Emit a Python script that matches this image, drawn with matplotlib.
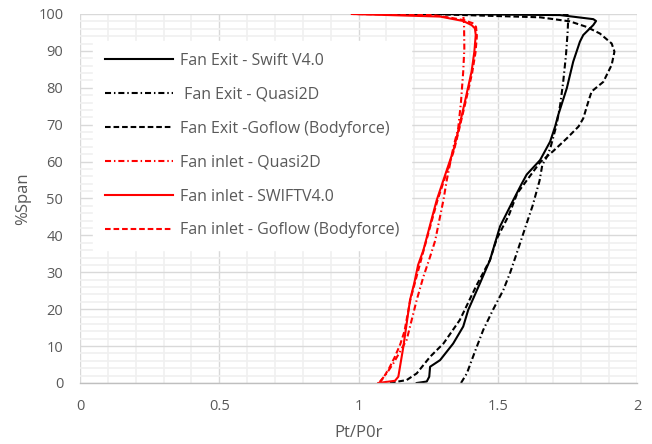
import matplotlib
matplotlib.use("Agg")
import matplotlib.pyplot as plt
from matplotlib.ticker import MultipleLocator

plt.rcParams['font.family'] = ['Open Sans', 'DejaVu Sans']

# spanwise total pressure profiles, Pt/P0r vs %Span
exit_swift_x = [1.209, 1.245, 1.254, 1.257, 1.293, 1.340, 1.376, 1.394, 1.436, 1.472,
                1.508, 1.556, 1.586, 1.604, 1.652, 1.688, 1.706, 1.717, 1.748, 1.771,
                1.795, 1.807, 1.843, 1.853, 1.843, 1.724, 1.268, 1.0]
exit_swift_y = [0, 0.4, 1.7, 4.4, 6.2, 10.7, 15.3, 19.8, 27.0, 33.3,
                42.4, 49.6, 54.0, 56.5, 60.4, 65.4, 69.5, 72.6, 79.9, 87.1,
                92.5, 94.3, 97.0, 98.1, 98.6, 99.7, 100, 100]

exit_q2d_x = [1.368, 1.389, 1.418, 1.448, 1.484, 1.520, 1.545, 1.575, 1.600, 1.625,
              1.650, 1.660, 1.678, 1.690, 1.711, 1.724, 1.735, 1.745, 1.751, 1.753,
              1.750, 1.27]
exit_q2d_y = [0, 2.6, 8.5, 14.4, 20.0, 25.2, 30.0, 36.7, 42.4, 48.0,
              54.8, 59.1, 61.5, 64.0, 69.9, 75.3, 81.6, 88.9, 95.2, 98.8,
              100, 100]

exit_goflow_x = [1.113, 1.173, 1.209, 1.257, 1.305, 1.330, 1.364, 1.424, 1.472, 1.496,
                 1.540, 1.570, 1.652, 1.700, 1.748, 1.790, 1.807, 1.825, 1.837, 1.879,
                 1.909, 1.919, 1.909, 1.867, 1.819, 1.759, 1.652, 1.293]
exit_goflow_y = [0, 0.8, 2.6, 7.1, 10.7, 13.4, 17.1, 26.5, 33.3, 39.0,
                 45.5, 51.4, 59.8, 62.9, 66.3, 69.5, 71.7, 76.2, 79.0, 81.6,
                 86.2, 89.8, 92.0, 94.7, 96.5, 98.0, 99.1, 99.9]

inlet_q2d_x = [1.077, 1.101, 1.125, 1.173, 1.209, 1.233, 1.257, 1.275, 1.305, 1.317,
               1.341, 1.358, 1.368, 1.376, 1.380, 1.379, 1.376]
inlet_q2d_y = [0.35, 2.6, 5.3, 11.7, 22.5, 28.8, 34.2, 38.5, 49.6, 55.0,
               64.0, 69.0, 76.2, 84.4, 90.7, 97.0, 100]

inlet_swift_x = [1.071, 1.131, 1.143, 1.149, 1.161, 1.185, 1.200, 1.214, 1.233, 1.265,
                 1.281, 1.341, 1.357, 1.382, 1.406, 1.416, 1.421, 1.418, 1.406, 1.376,
                 1.293, 0.976]
inlet_swift_y = [0, 0.6, 1.7, 4.4, 9.8, 22.5, 27.0, 32.0, 36.0, 45.1,
                 49.6, 63.1, 68.0, 76.2, 84.4, 89.8, 94.3, 96.1, 97.0, 98.1,
                 99.3, 100]

inlet_goflow_x = [1.075, 1.09, 1.11, 1.13, 1.15, 1.165, 1.186, 1.202, 1.234, 1.267,
                  1.284, 1.343, 1.359, 1.384, 1.408, 1.420, 1.425, 1.422, 1.41, 1.38,
                  1.33, 1.268, 0.98]
inlet_goflow_y = [0, 1.5, 4, 7, 10.5, 14, 22.5, 27, 36, 45,
                  49.6, 63.1, 68, 76, 84, 89.5, 94, 96.5, 97.5, 98.3,
                  99, 99.7, 100]

fig = plt.figure(figsize=(6.52, 4.44), dpi=100)
ax = fig.add_axes([0.1227, 0.1374, 0.8543, 0.8311])

dashdot = (2.9, 1.4, 0.7, 1.4)
dashed = (2.7, 1.4)
lw = 1.5

ax.plot(exit_swift_x, exit_swift_y, color='black', lw=lw, label='Fan Exit - Swift V4.0')
ax.plot(exit_q2d_x, exit_q2d_y, color='black', lw=lw, dashes=dashdot,
        label=' Fan Exit - Quasi2D')
ax.plot(exit_goflow_x, exit_goflow_y, color='black', lw=lw, dashes=dashed,
        label='Fan Exit -Goflow (Bodyforce)')
ax.plot(inlet_q2d_x, inlet_q2d_y, color='#ff0000', lw=lw, dashes=dashdot,
        label='Fan inlet - Quasi2D')
ax.plot(inlet_swift_x, inlet_swift_y, color='#ff0000', lw=lw, label='Fan inlet - SWIFTV4.0')
ax.plot(inlet_goflow_x, inlet_goflow_y, color='#ff0000', lw=lw, dashes=dashed,
        label='Fan inlet - Goflow (Bodyforce)')

ax.set_xlim(0, 2)
ax.set_ylim(0, 100)
ax.xaxis.set_minor_locator(MultipleLocator(0.1))
ax.yaxis.set_major_locator(MultipleLocator(10))
ax.yaxis.set_minor_locator(MultipleLocator(2))
ax.set_xticks([0, 0.5, 1, 1.5, 2])
ax.set_xticklabels(['0', '0.5', '1', '1.5', '2'])

ax.grid(which='minor', color='#f0f0f0', lw=1.2, zorder=0)
ax.grid(which='major', color='#d9d9d9', lw=1.0, zorder=0)
ax.set_axisbelow(True)
for side in ['left', 'right', 'top']:
    ax.spines[side].set_visible(False)
ax.spines['bottom'].set_color('#bfbfbf')
ax.spines['bottom'].set_linewidth(1.0)
ax.tick_params(which='both', length=0, colors='#595959', labelsize=10.5)
ax.tick_params(axis='x', pad=11.5)
ax.tick_params(axis='y', pad=12)

ax.set_xlabel('Pt/P0r', fontsize=12, color='#595959', labelpad=8)
ax.set_ylabel('%Span', fontsize=12, color='#595959', labelpad=5)

leg = ax.legend(loc='upper left', bbox_to_anchor=(93 / 652, 1 - 41 / 444),
                bbox_transform=fig.transFigure, fontsize=11.5, frameon=True,
                fancybox=False, framealpha=1, facecolor='white', edgecolor='white',
                handlelength=4.25, handletextpad=0.45, labelspacing=1.12,
                borderpad=0.75, borderaxespad=0)
for t in leg.get_texts():
    t.set_color('#595959')

fig.savefig('out.png', dpi=100)
